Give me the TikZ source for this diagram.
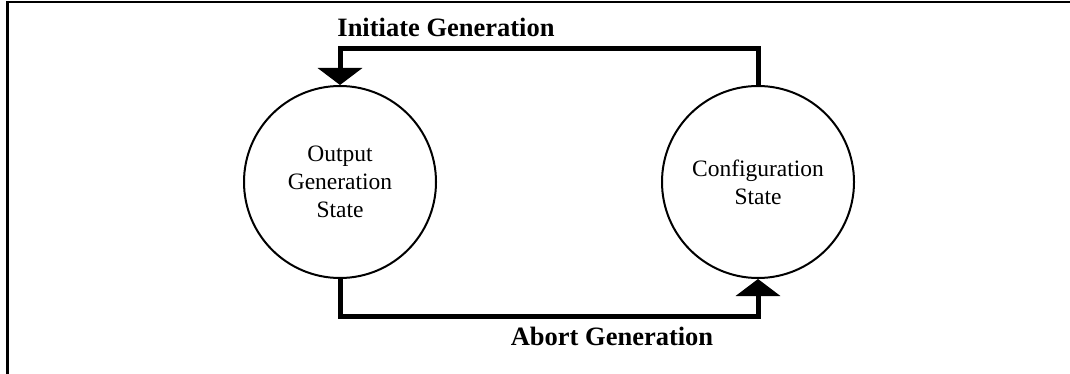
\documentclass[tikz,border=0pt]{standalone}
\usepackage{fontspec}
\setmainfont{Liberation Serif}
\usetikzlibrary{arrows.meta}
\begin{document}
\begin{tikzpicture}[x=1pt,y=-1pt,
  frame/.style={line width=2.5pt},
  statenode/.style={circle,draw,line width=2pt,minimum size=192pt,inner sep=0pt,align=center,
    font=\fontsize{23.5}{28}\selectfont},
  conn/.style={line width=5pt,line join=miter,-{Triangle[length=17pt,width=44pt]}},
  lbl/.style={font=\fontsize{26.5}{30}\selectfont\bfseries,anchor=base,inner sep=0pt}]
\useasboundingbox (0,0) rectangle (1070,374);
\draw[frame] (1072,2) -- (7.5,2) -- (7.5,376);
\node[statenode] (out) at (340,182) {Output\\Generation\\State};
\node[statenode] (cfg) at (758,182) {Configuration\\State};
\node[lbl] (init) at (446,37) {Initiate Generation};
\node[lbl] (abort) at (612,345) {Abort Generation};
\draw[conn] (cfg.north) -- ++(0,-36) -| (out.north);
\draw[conn] (out.south) -- ++(0,37) -| (cfg.south);
\end{tikzpicture}
\end{document}
